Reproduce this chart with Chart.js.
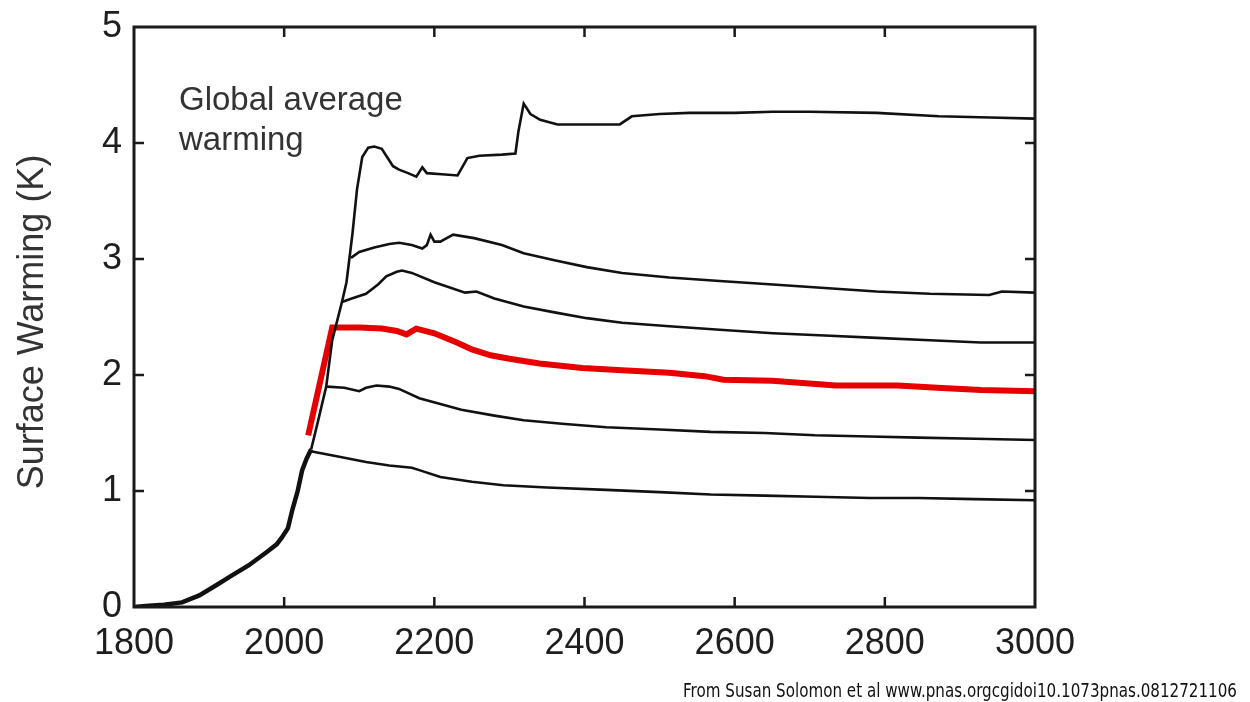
<!DOCTYPE html>
<html lang="en">
<head>
<meta charset="UTF-8">
<title>Surface Warming</title>
<script src="https://cdn.jsdelivr.net/npm/chart.js"></script>
<style>
  html, body { margin: 0; padding: 0; background: #fff; }
  #wrap { width: 1250px; height: 702px; }
</style>
</head>
<body>
<div id="wrap"><canvas id="warmChart" width="1250" height="702"></canvas></div>
<script>
// shared rise (historical) before the scenarios split
const rampYears = [1800, 1820, 1840, 1864, 1887, 1910, 1930, 1953, 1976, 1990, 1997, 2005, 2011, 2018, 2024, 2030, 2036];
const rampVals  = [0, 0.01, 0.02, 0.04, 0.1, 0.19, 0.27, 0.36, 0.47, 0.54, 0.6, 0.68, 0.84, 1.0, 1.18, 1.28, 1.36];

const topYears = [2036, 2045, 2056, 2064, 2077, 2083, 2091, 2097, 2104, 2112, 2120, 2130, 2137, 2145, 2153, 2165, 2176, 2184, 2190, 2210, 2231, 2244, 2260, 2290, 2308, 2312, 2319, 2328, 2341, 2364, 2400, 2447, 2463, 2500, 2540, 2600, 2651, 2700, 2789, 2872, 2940, 3000];
const topVals  = [1.36, 1.6, 1.9, 2.3, 2.63, 2.8, 3.22, 3.6, 3.88, 3.96, 3.97, 3.95, 3.88, 3.8, 3.77, 3.74, 3.71, 3.79, 3.74, 3.73, 3.72, 3.87, 3.89, 3.9, 3.91, 4.1, 4.34, 4.25, 4.2, 4.16, 4.16, 4.16, 4.23, 4.25, 4.26, 4.26, 4.27, 4.27, 4.26, 4.23, 4.22, 4.21];

const s3Years = [2089, 2100, 2120, 2140, 2153, 2170, 2184, 2190, 2195, 2200, 2208, 2225, 2253, 2290, 2319, 2360, 2403, 2450, 2513, 2580, 2651, 2720, 2789, 2860, 2939, 2956, 3000];
const s3Vals  = [3.01, 3.06, 3.1, 3.13, 3.14, 3.12, 3.09, 3.12, 3.21, 3.15, 3.15, 3.21, 3.18, 3.12, 3.05, 2.99, 2.93, 2.88, 2.84, 2.81, 2.78, 2.75, 2.72, 2.7, 2.69, 2.72, 2.71];

const s26Years = [2077, 2090, 2109, 2125, 2136, 2150, 2157, 2170, 2200, 2241, 2256, 2280, 2319, 2360, 2403, 2450, 2513, 2580, 2651, 2720, 2789, 2860, 2928, 3000];
const s26Vals  = [2.63, 2.66, 2.7, 2.78, 2.85, 2.89, 2.9, 2.88, 2.8, 2.71, 2.72, 2.66, 2.59, 2.54, 2.49, 2.45, 2.42, 2.39, 2.36, 2.34, 2.32, 2.3, 2.28, 2.28];

const redYears = [2032, 2064, 2100, 2130, 2150, 2163, 2176, 2200, 2230, 2250, 2275, 2300, 2340, 2397, 2450, 2513, 2560, 2585, 2650, 2735, 2817, 2870, 2928, 3000];
const redVals  = [1.48, 2.41, 2.41, 2.4, 2.38, 2.35, 2.4, 2.36, 2.28, 2.22, 2.17, 2.14, 2.1, 2.06, 2.04, 2.02, 1.99, 1.96, 1.95, 1.91, 1.91, 1.89, 1.87, 1.86];

const s19Years = [2057, 2080, 2100, 2109, 2123, 2140, 2153, 2180, 2208, 2236, 2280, 2319, 2370, 2429, 2500, 2568, 2640, 2707, 2780, 2845, 2920, 3000];
const s19Vals  = [1.9, 1.89, 1.86, 1.89, 1.91, 1.9, 1.88, 1.8, 1.75, 1.7, 1.65, 1.61, 1.58, 1.55, 1.53, 1.51, 1.5, 1.48, 1.47, 1.46, 1.45, 1.44];

const s13Years = [2037, 2070, 2109, 2140, 2170, 2180, 2208, 2250, 2292, 2350, 2429, 2500, 2568, 2640, 2707, 2780, 2845, 2920, 3000];
const s13Vals  = [1.34, 1.3, 1.25, 1.22, 1.2, 1.18, 1.12, 1.08, 1.05, 1.03, 1.01, 0.99, 0.97, 0.96, 0.95, 0.94, 0.94, 0.93, 0.92];

const xTicks = [1800, 2000, 2200, 2400, 2600, 2800, 3000];
const yTicks = [0, 1, 2, 3, 4, 5];

function pts(xs, ys) {
    return xs.map((x, i) => ({ x: x, y: ys[i] }));
}

function series(xs, ys, color, width) {
    return {
        data: pts(xs, ys),
        borderColor: color,
        backgroundColor: color,
        borderWidth: width,
        showLine: true,
        pointRadius: 0,
        tension: 0,
        fill: false
    };
}

// frame, inward ticks and the extra text
const decorations = {
    id: 'decorations',
    afterDraw(chart) {
        const ctx = chart.ctx;
        const a = chart.chartArea;
        const xs = chart.scales.x, ys = chart.scales.y;
        ctx.save();
        ctx.strokeStyle = '#1a1a1a';
        ctx.lineWidth = 3;
        ctx.strokeRect(a.left, a.top, a.right - a.left, a.bottom - a.top);
        ctx.lineWidth = 2.5;
        ctx.beginPath();
        xTicks.slice(1, -1).forEach(v => {
            const px = xs.getPixelForValue(v);
            ctx.moveTo(px, a.bottom); ctx.lineTo(px, a.bottom - 10);
            ctx.moveTo(px, a.top); ctx.lineTo(px, a.top + 10);
        });
        yTicks.slice(1, -1).forEach(v => {
            const py = ys.getPixelForValue(v);
            ctx.moveTo(a.left, py); ctx.lineTo(a.left + 10, py);
            ctx.moveTo(a.right, py); ctx.lineTo(a.right - 10, py);
        });
        ctx.stroke();

        ctx.fillStyle = '#333';
        ctx.font = '33px "Liberation Sans", Arial, sans-serif';
        ctx.textAlign = 'left';
        ctx.textBaseline = 'alphabetic';
        ctx.fillText('Global average', 179, 110);
        ctx.fillText('warming', 179, 150);

        ctx.save();
        ctx.translate(43, 322);
        ctx.rotate(-Math.PI / 2);
        ctx.textAlign = 'center';
        ctx.font = '36px "Liberation Sans", Arial, sans-serif';
        ctx.fillText('Surface Warming (K)', 0, 0);
        ctx.restore();

        ctx.fillStyle = '#111';
        ctx.font = '20px "DejaVu Sans", sans-serif';
        ctx.textAlign = 'left';
        ctx.fillText('From Susan Solomon et al www.pnas.orgcgidoi10.1073pnas.0812721106', 683, 697, 554);
        ctx.restore();
    }
};

const ctx = document.getElementById('warmChart').getContext('2d');
new Chart(ctx, {
    type: 'scatter',
    data: {
        datasets: [
            series(topYears, topVals, '#111', 2.6),
            series(s3Years, s3Vals, '#111', 2.6),
            series(s26Years, s26Vals, '#111', 2.6),
            series(s19Years, s19Vals, '#111', 2.6),
            series(s13Years, s13Vals, '#111', 2.6),
            series(rampYears, rampVals, '#111', 4.5),
            series(redYears, redVals, '#e60000', 6)
        ]
    },
    options: {
        responsive: false,
        animation: false,
        layout: { padding: { top: 27, right: 215, left: 0, bottom: 0 } },
        plugins: {
            legend: { display: false },
            tooltip: { enabled: false }
        },
        scales: {
            x: {
                type: 'linear',
                min: 1800,
                max: 3000,
                afterFit: s => { s.height = 95; },
                afterBuildTicks: s => { s.ticks = xTicks.map(v => ({ value: v })); },
                grid: { display: false, drawTicks: false },
                border: { display: false },
                ticks: {
                    padding: 23,
                    color: '#1e1e1e',
                    font: { family: '"Liberation Sans", Arial, sans-serif', size: 36, lineHeight: 0.8 },
                    maxRotation: 0,
                    callback: v => String(v)
                }
            },
            y: {
                type: 'linear',
                min: 0,
                max: 5,
                afterFit: s => { s.width = 134; },
                afterBuildTicks: s => { s.ticks = yTicks.map(v => ({ value: v })); },
                grid: { display: false, drawTicks: false },
                border: { display: false },
                ticks: {
                    padding: 12,
                    color: '#1e1e1e',
                    font: { family: '"Liberation Sans", Arial, sans-serif', size: 36, lineHeight: 0.8 },
                    callback: v => String(v)
                }
            }
        }
    },
    plugins: [decorations]
});
</script>
</body>
</html>
